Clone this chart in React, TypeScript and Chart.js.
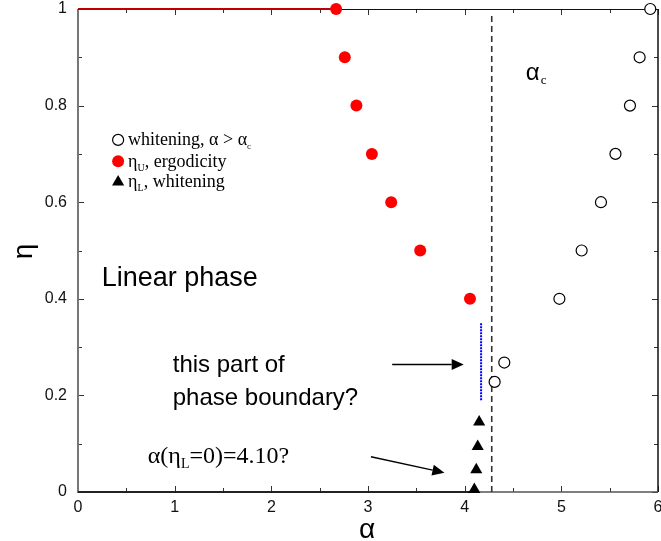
import React, { useEffect, useRef } from "react";
import { Chart, registerables } from "chart.js";

Chart.register(...registerables);

// ---- data ----
const whiteningAlpha = [5.92, 5.81, 5.71, 5.56, 5.41, 5.21, 4.98, 4.41, 4.31];
const whiteningEta = [1.0, 0.9, 0.8, 0.7, 0.6, 0.5, 0.4, 0.268, 0.228];

const ergodicityAlpha = [2.67, 2.76, 2.88, 3.04, 3.24, 3.54, 4.055];
const ergodicityEta = [1.0, 0.9, 0.8, 0.7, 0.6, 0.5, 0.4];

const lowerAlpha = [4.15, 4.135, 4.12, 4.1];
const lowerEta = [0.145, 0.094, 0.046, 0.005];

const topLineAlpha = [0, 2.67];
const topLineEta = [1, 1];
const bottomLineAlpha = [0, 4.1];
const bottomLineEta = [0, 0];
const alphaC = 4.28;
const alphaCEta = [0, 0.99];
const blueAlpha = 4.17;
const blueEta = [0.19, 0.35];

// arrows: [fromAlpha, fromEta, toAlpha, toEta]
const arrow1 = [3.25, 0.264, 3.99, 0.264];
const arrow2 = [3.03, 0.073, 3.79, 0.04];

const xTicks = [0, 1, 2, 3, 4, 5, 6];
const yTicks = [0, 0.2, 0.4, 0.6, 0.8, 1];

const SANS = "'Liberation Sans', Arial, sans-serif";
const SERIF = "'Liberation Serif', 'Times New Roman', serif";

const zip = (xs: number[], ys: number[]) => xs.map((x, i) => ({ x, y: ys[i] }));

type Part = { t: string; sub?: boolean; font?: string };

function drawRich(ctx: CanvasRenderingContext2D, x: number, y: number, parts: Part[], size: number, subSize: number, family: string) {
  let cx = x;
  for (const p of parts) {
    const fam = p.font || family;
    if (p.sub) {
      ctx.font = `${subSize}px ${fam}`;
      ctx.fillText(p.t, cx, y + size * 0.22);
    } else {
      ctx.font = `${size}px ${fam}`;
      ctx.fillText(p.t, cx, y);
    }
    cx += ctx.measureText(p.t).width;
  }
}

const decorPlugin = {
  id: "decor",
  beforeDatasetsDraw(chart: any) {
    const { ctx, chartArea: a, scales } = chart;
    const xs = scales.x;
    const ys = scales.y;
    ctx.save();
    // minor & major ticks inward
    ctx.strokeStyle = "#333";
    ctx.lineWidth = 1;
    for (let v = 0; v <= 6.0001; v += 0.5) {
      const px = Math.round(xs.getPixelForValue(v)) + 0.5;
      const len = Math.abs(v - Math.round(v)) < 1e-6 ? 6 : 4;
      ctx.beginPath();
      ctx.moveTo(px, a.bottom);
      ctx.lineTo(px, a.bottom - len);
      ctx.moveTo(px, a.top);
      ctx.lineTo(px, a.top + len);
      ctx.stroke();
    }
    for (let i = 0; i <= 10; i++) {
      const v = i / 10;
      const py = Math.round(ys.getPixelForValue(v)) + 0.5;
      const len = i % 2 === 0 ? 6 : 4;
      ctx.beginPath();
      ctx.moveTo(a.left, py);
      ctx.lineTo(a.left + len, py);
      ctx.moveTo(a.right, py);
      ctx.lineTo(a.right - len, py);
      ctx.stroke();
    }
    // frame
    ctx.lineWidth = 1;
    ctx.strokeStyle = "#111";
    ctx.beginPath();
    ctx.moveTo(a.left, a.top + 0.5);
    ctx.lineTo(a.right, a.top + 0.5);
    ctx.stroke();
    ctx.lineWidth = 1.5;
    ctx.beginPath();
    ctx.moveTo(a.right, a.top);
    ctx.lineTo(a.right, a.bottom);
    ctx.stroke();
    ctx.strokeStyle = "#555";
    ctx.beginPath();
    ctx.moveTo(a.left, a.bottom);
    ctx.lineTo(a.right, a.bottom);
    ctx.stroke();
    ctx.strokeStyle = "#777";
    ctx.lineWidth = 2;
    ctx.beginPath();
    ctx.moveTo(a.left, a.top);
    ctx.lineTo(a.left, a.bottom + 1);
    ctx.stroke();
    ctx.restore();
  },
  afterDatasetsDraw(chart: any) {
    const { ctx, chartArea: a, scales } = chart;
    const xs = scales.x;
    const ys = scales.y;
    const X = (v: number) => xs.getPixelForValue(v);
    const Y = (v: number) => ys.getPixelForValue(v);
    ctx.save();
    ctx.fillStyle = "#000";
    ctx.textBaseline = "alphabetic";
    ctx.textAlign = "left";

    // arrows
    const drawArrow = (arr: number[]) => {
      const x0 = X(arr[0]), y0 = Y(arr[1]), x1 = X(arr[2]), y1 = Y(arr[3]);
      const ang = Math.atan2(y1 - y0, x1 - x0);
      const hl = 12, hw = 5.5;
      const bx = x1 - hl * Math.cos(ang), by = y1 - hl * Math.sin(ang);
      ctx.strokeStyle = "#000";
      ctx.lineWidth = 1.3;
      ctx.beginPath();
      ctx.moveTo(x0, y0);
      ctx.lineTo(bx, by);
      ctx.stroke();
      ctx.beginPath();
      ctx.moveTo(x1, y1);
      ctx.lineTo(bx + hw * Math.sin(ang), by - hw * Math.cos(ang));
      ctx.lineTo(bx - hw * Math.sin(ang), by + hw * Math.cos(ang));
      ctx.closePath();
      ctx.fill();
    };
    drawArrow(arrow1);
    drawArrow(arrow2);

    // texts
    ctx.font = `27px ${SANS}`;
    ctx.fillText("Linear phase", X(0.245), Y(0.427));
    ctx.font = `24px ${SANS}`;
    ctx.fillText("this part of", X(0.98), Y(0.249));
    ctx.fillText("phase boundary?", X(0.98), Y(0.18));

    drawRich(ctx, X(0.722), Y(0.0607), [
      { t: "α(η" },
      { t: "L", sub: true },
      { t: "=0)=4.10?" },
    ], 24, 14, SERIF);

    // alpha_c
    ctx.font = `24px ${SANS}`;
    ctx.fillText("α", X(4.632), Y(0.853));
    const aw = ctx.measureText("α").width;
    ctx.font = `13px ${SERIF}`;
    ctx.fillText("c", X(4.632) + aw + 1, Y(0.853) + 4);

    // legend
    const lx = X(0.415);
    const rows = [0.729, 0.685, 0.642].map(Y);
    // open circle
    ctx.beginPath();
    ctx.arc(lx, rows[0], 5.5, 0, Math.PI * 2);
    ctx.fillStyle = "#fff";
    ctx.fill();
    ctx.strokeStyle = "#000";
    ctx.lineWidth = 1.2;
    ctx.stroke();
    // red circle
    ctx.beginPath();
    ctx.arc(lx, rows[1], 6, 0, Math.PI * 2);
    ctx.fillStyle = "#ff0000";
    ctx.fill();
    // triangle
    ctx.fillStyle = "#000";
    const r = 7;
    ctx.beginPath();
    ctx.moveTo(lx, rows[2] - r);
    ctx.lineTo(lx + r * 0.866, rows[2] + r / 2);
    ctx.lineTo(lx - r * 0.866, rows[2] + r / 2);
    ctx.closePath();
    ctx.fill();

    const tx = lx + 10;
    drawRich(ctx, tx, rows[0] + 5.5, [{ t: "whitening, α > α" }, { t: "c", sub: true }], 18, 9, SERIF);
    drawRich(ctx, tx, rows[1] + 5.5, [{ t: "η" }, { t: "U", sub: true }, { t: ", ergodicity" }], 18, 10, SERIF);
    drawRich(ctx, tx, rows[2] + 5.5, [{ t: "η" }, { t: "L", sub: true }, { t: ", whitening" }], 18, 10, SERIF);

    // axis titles
    ctx.textAlign = "center";
    ctx.textBaseline = "middle";
    ctx.font = `28px ${SANS}`;
    ctx.fillText("α", (a.left + a.right) / 2 - 1, a.bottom + 38);
    ctx.save();
    ctx.translate(24, (a.top + a.bottom) / 2 + 1);
    ctx.rotate(-Math.PI / 2);
    ctx.fillText("η", 0, 0);
    ctx.restore();

    ctx.restore();
  },
};

export default function App() {
  const ref = useRef<HTMLCanvasElement | null>(null);
  useEffect(() => {
    if (!ref.current) return;
    const chart = new Chart(ref.current, {
      type: "scatter",
      data: {
        datasets: [
          {
            label: "whitening",
            data: zip(whiteningAlpha, whiteningEta),
            pointStyle: "circle",
            pointRadius: 5.5,
            backgroundColor: "#ffffff",
            borderColor: "#000000",
            borderWidth: 1.2,
            clip: false,
            order: 1,
          },
          {
            label: "ergodicity",
            data: zip(ergodicityAlpha, ergodicityEta),
            pointStyle: "circle",
            pointRadius: 6,
            backgroundColor: "#ff0000",
            borderColor: "#ff0000",
            borderWidth: 0,
            clip: false,
            order: 1,
          },
          {
            label: "lower",
            data: zip(lowerAlpha, lowerEta),
            pointStyle: "triangle",
            pointRadius: 7,
            backgroundColor: "#000000",
            borderColor: "#000000",
            borderWidth: 0,
            clip: false,
            order: 1,
          },
          {
            label: "top",
            data: zip(topLineAlpha, topLineEta),
            showLine: true,
            borderColor: "#c00000",
            borderWidth: 2,
            pointRadius: 0,
            clip: false,
            order: 3,
          },
          {
            label: "bottom",
            data: zip(bottomLineAlpha, bottomLineEta),
            showLine: true,
            borderColor: "#222222",
            borderWidth: 2,
            pointRadius: 0,
            clip: false,
            order: 3,
          },
          {
            label: "alphac",
            data: alphaCEta.map((y) => ({ x: alphaC, y })),
            showLine: true,
            borderColor: "#333333",
            borderWidth: 1.6,
            borderDash: [6, 4],
            pointRadius: 0,
            clip: false,
            order: 3,
          },
          {
            label: "blue",
            data: blueEta.map((y) => ({ x: blueAlpha, y })),
            showLine: true,
            borderColor: "#0000ff",
            borderWidth: 2,
            borderDash: [2, 1],
            pointRadius: 0,
            clip: false,
            order: 3,
          },
        ],
      },
      options: {
        responsive: false,
        animation: false,
        events: [],
        layout: { padding: { left: 0, right: 22, top: 9, bottom: 0 } },
        plugins: {
          legend: { display: false },
          tooltip: { enabled: false },
        },
        scales: {
          x: {
            type: "linear",
            min: 0,
            max: 6,
            afterFit: (s: any) => {
              s.height = 49;
              s.paddingLeft = 0;
              s.paddingRight = 0;
            },
            afterBuildTicks: (s: any) => {
              s.ticks = xTicks.map((v) => ({ value: v }));
            },
            grid: { display: false, drawTicks: false },
            border: { display: false },
            ticks: {
              padding: 6,
              color: "#111",
              font: { family: SANS, size: 16 },
              callback: (v: any) => String(v),
            },
          },
          y: {
            type: "linear",
            min: 0,
            max: 1,
            afterFit: (s: any) => {
              s.width = 78;
              s.paddingTop = 0;
              s.paddingBottom = 0;
            },
            afterBuildTicks: (s: any) => {
              s.ticks = yTicks.map((v) => ({ value: v }));
            },
            grid: { display: false, drawTicks: false },
            border: { display: false },
            ticks: {
              padding: 11,
              color: "#111",
              font: { family: SANS, size: 16 },
              callback: (v: any) => String(Math.round(v * 10) / 10),
            },
          },
        },
      },
      plugins: [decorPlugin],
    });
    return () => chart.destroy();
  }, []);
  return (
    <div style={{ position: "fixed", left: 0, top: 0, width: 661, height: 541, overflow: "hidden", background: "#fff" }}>
      <canvas ref={ref} width={680} height={541} style={{ display: "block", width: 680, height: 541 }} />
    </div>
  );
}
